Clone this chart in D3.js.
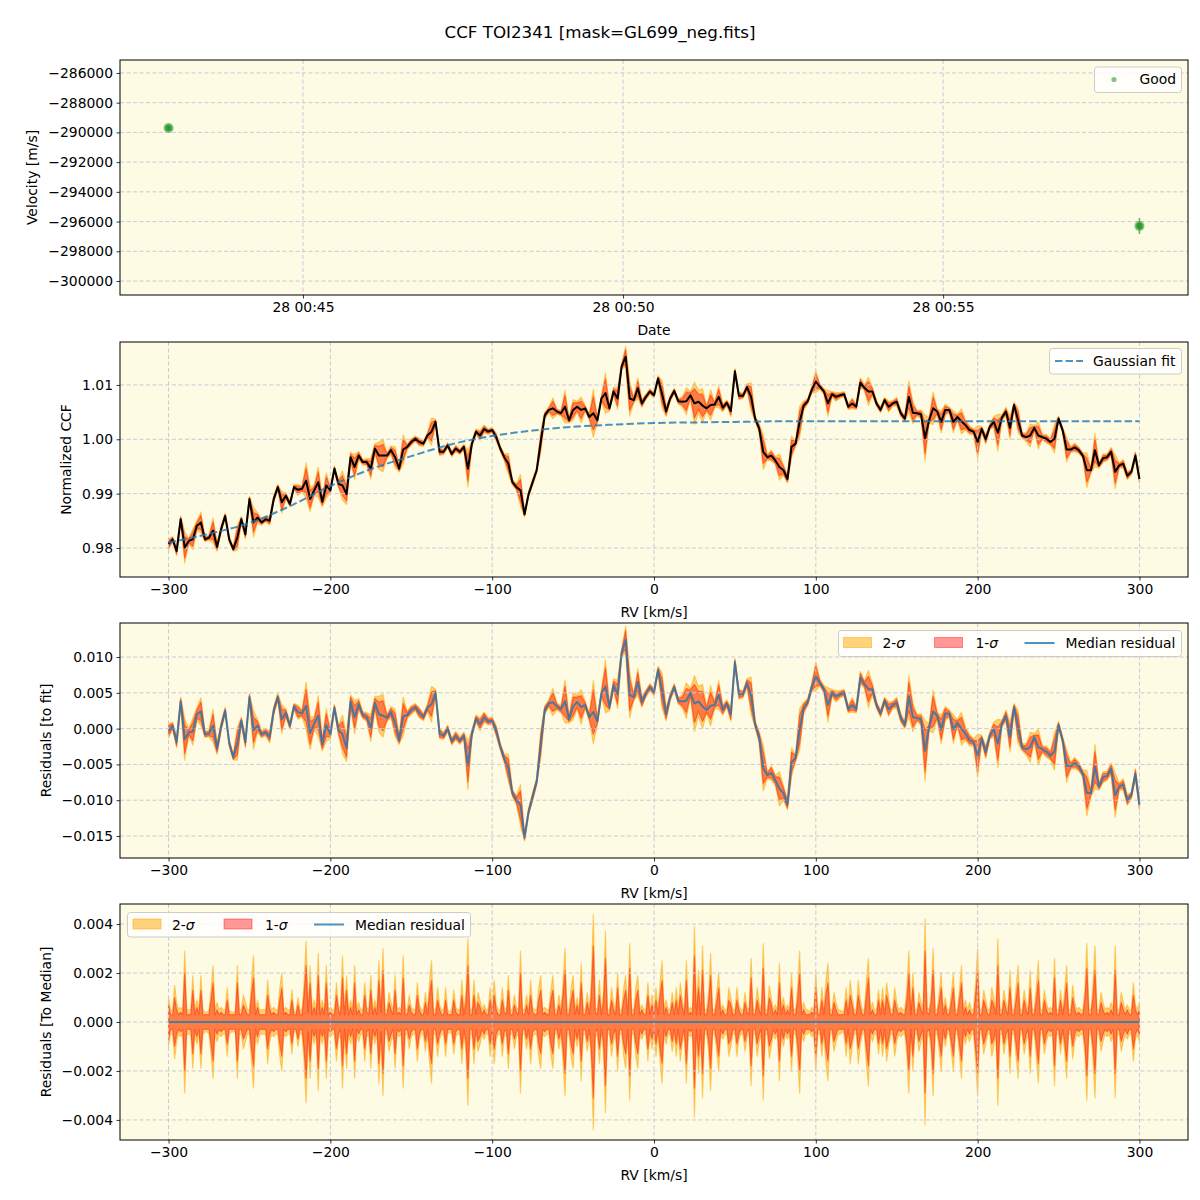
<!DOCTYPE html>
<html>
<head>
<meta charset="utf-8">
<script src="https://cdn.jsdelivr.net/npm/d3@7/dist/d3.min.js"></script>
<style>
html,body{margin:0;padding:0;background:#ffffff;}
svg text{font-family:"DejaVu Sans","Liberation Sans",sans-serif;}
</style>
</head>
<body>
<svg id="chart" width="1200" height="1200" xmlns="http://www.w3.org/2000/svg"></svg>
<script>
// ---------------- DATA ----------------
const titleText = "CCF TOI2341 [mask=GL699_neg.fits]";

// panel 1 : RV time series
const obsTimes = ["2023-07-28T00:42:54Z", "2023-07-28T00:58:04Z"];
const obsVelocity = [-289700, -296300];
const obsError = [120, 540];
const velTicks = [-300000, -298000, -296000, -294000, -292000, -290000, -288000, -286000];

// RV grids (km/s)
const rvGrid = d3.range(-300, 300.001, 2.5);    // CCF / residual sampling
const rvFine = d3.range(-300, 300.001, 1.25);   // spread sampling
const rvTicks = [-300, -200, -100, 0, 100, 200, 300];

// panel 2 : normalized CCF
const ccf = [
0.9807,0.9816,0.9794,0.9853,0.9801,0.9813,0.9816,0.9841,0.9847,0.9816,0.9819,0.9832,0.9802,0.9835,0.9859,0.9816,0.9798,0.9819,0.9853,0.9825,
0.9890,0.9847,0.9856,0.9847,0.9853,0.9850,0.9890,0.9912,0.9884,0.9896,0.9881,0.9912,0.9907,0.9909,0.9924,0.9890,0.9906,0.9921,0.9885,0.9915,
0.9906,0.9946,0.9918,0.9915,0.9899,0.9967,0.9949,0.9970,0.9958,0.9958,0.9946,0.9983,0.9970,0.9970,0.9970,0.9980,0.9967,0.9946,0.9981,0.9986,0.9995,
1.0001,0.9995,0.9992,1.0007,1.0014,1.0032,0.9977,0.9977,0.9989,0.9973,0.9983,0.9977,0.9986,0.9946,0.9992,1.0014,1.0007,1.0019,1.0014,1.0017,
1.0004,0.9983,0.9967,0.9955,0.9921,0.9912,0.9906,0.9862,0.9899,0.9921,0.9943,0.9995,1.0044,1.0054,1.0057,1.0051,1.0048,1.0060,1.0035,1.0054,
1.0060,1.0054,1.0057,1.0041,1.0048,1.0035,1.0075,1.0085,1.0057,1.0088,1.0075,1.0134,1.0152,1.0075,1.0072,1.0094,1.0066,1.0078,1.0088,1.0081,
1.0112,1.0083,1.0051,1.0075,1.0089,1.0070,1.0069,1.0070,1.0081,1.0066,1.0069,1.0062,1.0057,1.0063,1.0064,1.0078,1.0058,1.0067,1.0052,1.0125,
1.0080,1.0080,1.0096,1.0078,1.0038,1.0020,0.9977,0.9967,0.9970,0.9961,0.9949,0.9943,0.9927,0.9986,0.9992,1.0032,1.0062,1.0070,1.0091,1.0106,
1.0097,1.0088,1.0066,1.0083,1.0078,1.0081,1.0083,1.0060,1.0066,1.0060,1.0104,1.0095,1.0088,1.0088,1.0066,1.0054,1.0072,1.0060,1.0066,1.0069,
1.0048,1.0038,1.0078,1.0049,1.0048,1.0046,1.0002,1.0035,1.0057,1.0051,1.0032,1.0054,1.0054,1.0032,1.0041,1.0033,1.0026,1.0017,1.0014,0.9995,
1.0019,1.0000,1.0023,1.0032,1.0012,1.0040,1.0051,1.0021,1.0063,1.0035,1.0007,1.0004,1.0007,1.0021,1.0007,1.0004,1.0001,0.9995,1.0001,1.0038,
1.0017,0.9981,0.9981,0.9985,0.9980,0.9970,0.9943,0.9943,0.9980,0.9952,0.9965,0.9967,0.9977,0.9940,0.9952,0.9955,0.9933,0.9940,0.9970,0.9927
];
const fitRV = [-300,-275,-250,-225,-200,-175,-150,-125,-100,-75,-50,-25,0,25,50,75,100,125,150,175,200,225,250,275,300];
const fitValue = [0.9810,0.9826,0.9846,0.9877,0.9914,0.9945,0.9969,0.9991,1.0006,1.0016,1.0023,1.0027,1.0030,1.0031,1.0032,1.0033,1.0033,1.0033,1.0033,1.0033,1.0033,1.0033,1.0033,1.0033,1.0033];

// panel 3 : median residual to fit
const residual = [
-0.0003,0.0004,-0.0019,0.0038,-0.0015,-0.0005,-0.0004,0.0020,0.0024,-0.0008,-0.0007,
0.0004,-0.0028,0.0003,0.0025,-0.0020,-0.0040,-0.0021,0.0011,-0.0019,0.0044,
-0.0002,0.0004,-0.0008,-0.0005,-0.0012,0.0025,0.0044,0.0013,0.0022,0.0004,
0.0031,0.0023,0.0021,0.0032,-0.0006,0.0007,0.0018,-0.0022,0.0005,-0.0008,
0.0029,-0.0002,-0.0008,-0.0027,0.0038,0.0016,0.0034,0.0019,0.0016,0.0001,
0.0036,0.0020,0.0018,0.0015,0.0023,0.0008,-0.0016,0.0017,0.0019,0.0026,
0.0030,0.0022,0.0016,0.0029,0.0034,0.0050,-0.0007,-0.0010,0.0000,-0.0018,
-0.0010,-0.0017,-0.0010,-0.0051,-0.0007,0.0014,0.0006,0.0016,0.0010,0.0011,
-0.0003,-0.0025,-0.0042,-0.0055,-0.0090,-0.0100,-0.0107,-0.0152,-0.0116,-0.0095,
-0.0074,-0.0022,0.0026,0.0035,0.0037,0.0031,0.0027,0.0038,0.0013,0.0031,
0.0037,0.0030,0.0033,0.0016,0.0023,0.0010,0.0049,0.0059,0.0030,0.0061,
0.0048,0.0106,0.0124,0.0047,0.0044,0.0065,0.0037,0.0049,0.0058,0.0051,
0.0082,0.0053,0.0020,0.0044,0.0058,0.0039,0.0038,0.0039,0.0050,0.0035,
0.0038,0.0031,0.0026,0.0032,0.0033,0.0047,0.0026,0.0035,0.0020,0.0093,
0.0048,0.0048,0.0064,0.0046,0.0006,-0.0012,-0.0055,-0.0065,-0.0062,-0.0072,
-0.0084,-0.0090,-0.0106,-0.0047,-0.0041,-0.0001,0.0029,0.0037,0.0058,0.0073,
0.0064,0.0055,0.0033,0.0050,0.0045,0.0048,0.0050,0.0027,0.0033,0.0027,
0.0071,0.0062,0.0055,0.0055,0.0033,0.0021,0.0039,0.0027,0.0033,0.0036,
0.0015,0.0005,0.0045,0.0016,0.0015,0.0013,-0.0031,0.0002,0.0024,0.0018,
-0.0001,0.0021,0.0021,-0.0001,0.0008,0.0000,-0.0007,-0.0016,-0.0019,-0.0038,
-0.0014,-0.0033,-0.0010,-0.0001,-0.0021,0.0007,0.0018,-0.0012,0.0030,0.0002,
-0.0026,-0.0029,-0.0026,-0.0012,-0.0026,-0.0029,-0.0032,-0.0038,-0.0032,0.0005,
-0.0016,-0.0052,-0.0052,-0.0048,-0.0053,-0.0063,-0.0090,-0.0090,-0.0053,-0.0081,
-0.0068,-0.0066,-0.0056,-0.0093,-0.0081,-0.0078,-0.0100,-0.0093,-0.0063,-0.0106
];

// panel 4 : spread around the median, half widths of the 2-sigma / 1-sigma bands (on rvFine)
const sigma2 = [
.0010,.0005,.0005,.0015,.0008,.0005,.0006,.0005,.0029,.0005,.0005,.0005,.0019,.0005,.0009,.0005,.0019,.0005,.0004,.0004,
.0005,.0013,.0023,.0005,.0008,.0005,.0006,.0005,.0005,.0014,.0005,.0004,.0004,.0004,.0023,.0005,.0005,.0011,.0008,.0005,
.0005,.0016,.0027,.0005,.0009,.0005,.0005,.0005,.0005,.0017,.0008,.0005,.0006,.0005,.0005,.0014,.0020,.0005,.0006,.0005,
.0005,.0013,.0004,.0004,.0010,.0005,.0005,.0016,.0033,.0006,.0023,.0005,.0009,.0005,.0028,.0005,.0009,.0005,.0023,.0005,
.0006,.0005,.0005,.0016,.0007,.0005,.0027,.0005,.0019,.0005,.0009,.0005,.0023,.0005,.0008,.0005,.0005,.0016,.0006,.0005,
.0019,.0005,.0009,.0005,.0025,.0006,.0030,.0005,.0005,.0012,.0008,.0005,.0019,.0005,.0006,.0005,.0027,.0005,.0005,.0011,
.0006,.0005,.0005,.0016,.0007,.0005,.0005,.0012,.0005,.0016,.0025,.0005,.0005,.0014,.0007,.0005,.0005,.0014,.0005,.0004,
.0005,.0013,.0006,.0005,.0005,.0017,.0005,.0012,.0034,.0005,.0005,.0017,.0005,.0012,.0009,.0005,.0007,.0005,.0005,.0014,
.0005,.0017,.0007,.0005,.0005,.0014,.0006,.0005,.0019,.0005,.0005,.0011,.0006,.0005,.0029,.0005,.0005,.0011,.0005,.0017,
.0006,.0005,.0005,.0014,.0019,.0005,.0006,.0005,.0005,.0013,.0019,.0005,.0005,.0011,.0005,.0016,.0030,.0005,.0005,.0014,
.0019,.0005,.0010,.0005,.0024,.0005,.0005,.0012,.0005,.0016,.0044,.0006,.0005,.0017,.0005,.0012,.0037,.0005,.0005,.0014,
.0008,.0005,.0020,.0005,.0005,.0014,.0019,.0005,.0032,.0005,.0005,.0014,.0019,.0005,.0007,.0005,.0005,.0016,.0005,.0011,
.0005,.0014,.0005,.0016,.0025,.0005,.0009,.0005,.0005,.0012,.0005,.0014,.0005,.0016,.0009,.0005,.0025,.0005,.0006,.0005,
.0039,.0005,.0021,.0005,.0031,.0005,.0005,.0012,.0028,.0005,.0005,.0012,.0020,.0005,.0007,.0005,.0005,.0014,.0010,.0005,
.0005,.0014,.0007,.0005,.0005,.0012,.0006,.0005,.0026,.0005,.0005,.0014,.0008,.0005,.0032,.0005,.0005,.0015,.0010,.0005,
.0007,.0005,.0024,.0005,.0010,.0005,.0007,.0005,.0020,.0005,.0005,.0014,.0029,.0005,.0008,.0005,.0005,.0004,.0006,.0005,
.0020,.0005,.0005,.0014,.0005,.0017,.0024,.0005,.0005,.0012,.0008,.0005,.0005,.0004,.0005,.0014,.0005,.0017,.0010,.0005,
.0005,.0017,.0009,.0005,.0005,.0017,.0026,.0005,.0008,.0005,.0005,.0013,.0005,.0014,.0005,.0016,.0010,.0005,.0005,.0014,
.0008,.0005,.0006,.0005,.0005,.0014,.0029,.0005,.0020,.0005,.0005,.0012,.0008,.0005,.0042,.0006,.0005,.0012,.0030,.0005,
.0005,.0012,.0020,.0005,.0010,.0005,.0005,.0012,.0020,.0005,.0005,.0013,.0023,.0005,.0009,.0005,.0008,.0005,.0005,.0016,
.0030,.0005,.0005,.0013,.0009,.0005,.0005,.0014,.0010,.0005,.0034,.0005,.0005,.0013,.0008,.0005,.0021,.0005,.0005,.0014,
.0023,.0005,.0005,.0013,.0008,.0005,.0021,.0005,.0005,.0014,.0025,.0005,.0005,.0013,.0008,.0005,.0006,.0005,.0026,.0005,
.0005,.0013,.0005,.0012,.0023,.0005,.0005,.0015,.0008,.0005,.0006,.0005,.0005,.0013,.0032,.0005,.0005,.0015,.0031,.0005,
.0005,.0012,.0008,.0005,.0006,.0005,.0008,.0005,.0031,.0005,.0005,.0012,.0008,.0005,.0007,.0005,.0005,.0016,.0007,.0005,
.0008
];
const sigma1 = [
.0007,.0003,.0003,.0010,.0005,.0003,.0004,.0003,.0020,.0003,.0003,.0003,.0013,.0003,.0006,.0003,.0013,.0003,.0003,.0003,
.0003,.0009,.0016,.0003,.0005,.0003,.0004,.0003,.0003,.0009,.0003,.0003,.0003,.0003,.0016,.0003,.0003,.0007,.0005,.0003,
.0003,.0011,.0018,.0003,.0006,.0003,.0003,.0003,.0003,.0011,.0005,.0003,.0004,.0003,.0003,.0009,.0014,.0003,.0004,.0003,
.0003,.0009,.0003,.0003,.0007,.0003,.0003,.0011,.0023,.0004,.0016,.0003,.0006,.0003,.0019,.0003,.0006,.0003,.0016,.0003,
.0004,.0003,.0003,.0011,.0005,.0003,.0018,.0003,.0013,.0003,.0006,.0003,.0016,.0003,.0005,.0003,.0003,.0011,.0004,.0003,
.0013,.0003,.0006,.0003,.0017,.0004,.0021,.0003,.0003,.0008,.0005,.0003,.0013,.0003,.0004,.0003,.0018,.0003,.0003,.0007,
.0004,.0003,.0003,.0011,.0005,.0003,.0003,.0008,.0003,.0011,.0017,.0003,.0003,.0009,.0005,.0003,.0003,.0009,.0003,.0003,
.0003,.0009,.0004,.0003,.0003,.0011,.0003,.0008,.0023,.0003,.0003,.0011,.0003,.0008,.0006,.0003,.0005,.0003,.0003,.0009,
.0003,.0011,.0005,.0003,.0003,.0009,.0004,.0003,.0013,.0003,.0003,.0007,.0004,.0003,.0020,.0003,.0003,.0007,.0003,.0011,
.0004,.0003,.0003,.0009,.0013,.0003,.0004,.0003,.0003,.0009,.0013,.0003,.0003,.0007,.0003,.0011,.0021,.0003,.0003,.0009,
.0013,.0003,.0007,.0003,.0016,.0003,.0003,.0008,.0003,.0011,.0031,.0004,.0003,.0011,.0003,.0008,.0026,.0003,.0003,.0009,
.0005,.0003,.0014,.0003,.0003,.0009,.0013,.0003,.0022,.0003,.0003,.0009,.0013,.0003,.0005,.0003,.0003,.0011,.0003,.0007,
.0003,.0009,.0003,.0011,.0017,.0003,.0006,.0003,.0003,.0008,.0003,.0009,.0003,.0011,.0006,.0003,.0017,.0003,.0004,.0003,
.0027,.0003,.0014,.0003,.0021,.0003,.0003,.0008,.0019,.0003,.0003,.0008,.0014,.0003,.0005,.0003,.0003,.0009,.0007,.0003,
.0003,.0009,.0005,.0003,.0003,.0008,.0004,.0003,.0018,.0003,.0003,.0009,.0005,.0003,.0022,.0003,.0003,.0010,.0007,.0003,
.0005,.0003,.0016,.0003,.0007,.0003,.0005,.0003,.0014,.0003,.0003,.0009,.0020,.0003,.0005,.0003,.0003,.0003,.0004,.0003,
.0014,.0003,.0003,.0009,.0003,.0011,.0016,.0003,.0003,.0008,.0005,.0003,.0003,.0003,.0003,.0009,.0003,.0011,.0007,.0003,
.0003,.0011,.0006,.0003,.0003,.0011,.0018,.0003,.0005,.0003,.0003,.0009,.0003,.0009,.0003,.0011,.0007,.0003,.0003,.0009,
.0005,.0003,.0004,.0003,.0003,.0009,.0020,.0003,.0014,.0003,.0003,.0008,.0005,.0003,.0029,.0004,.0003,.0008,.0021,.0003,
.0003,.0008,.0014,.0003,.0007,.0003,.0003,.0008,.0014,.0003,.0003,.0009,.0016,.0003,.0006,.0003,.0005,.0003,.0003,.0011,
.0021,.0003,.0003,.0009,.0006,.0003,.0003,.0009,.0007,.0003,.0023,.0003,.0003,.0009,.0005,.0003,.0014,.0003,.0003,.0009,
.0016,.0003,.0003,.0009,.0005,.0003,.0014,.0003,.0003,.0009,.0017,.0003,.0003,.0009,.0005,.0003,.0004,.0003,.0018,.0003,
.0003,.0009,.0003,.0008,.0016,.0003,.0003,.0010,.0005,.0003,.0004,.0003,.0003,.0009,.0022,.0003,.0003,.0010,.0021,.0003,
.0003,.0008,.0005,.0003,.0004,.0003,.0005,.0003,.0021,.0003,.0003,.0008,.0005,.0003,.0005,.0003,.0003,.0011,.0005,.0003,
.0005
];

const ccfTicks = [0.98, 0.99, 1.00, 1.01];
const resTicks = [-0.015, -0.010, -0.005, 0.000, 0.005, 0.010];
const medTicks = [-0.004, -0.002, 0.000, 0.002, 0.004];

// ---------------- STYLE / LAYOUT ----------------
const FS = 13.9;
const BG = "#fdfbe3";
const GRID = "#c8c9d6";
const C_ORANGE = "#ffa500", C_RED = "#ff0000", C_BLUE = "#1f77b4", C_GREEN = "#2ca02c";
const XL = 120, XR = 1188;
const P = [
  {top: 60, bottom: 295},
  {top: 342, bottom: 577},
  {top: 623, bottom: 858},
  {top: 904, bottom: 1140}
];

const svg = d3.select("#chart");
svg.append("rect").attr("width", 1200).attr("height", 1200).attr("fill", "#fff");
svg.append("text").attr("x", 600).attr("y", 38).attr("text-anchor", "middle")
  .attr("font-size", 16.7).attr("fill", "#000").text(titleText);

const defs = svg.append("defs");
P.forEach((p, i) => {
  defs.append("clipPath").attr("id", "clip" + i).append("rect")
    .attr("x", XL).attr("y", p.top).attr("width", XR - XL).attr("height", p.bottom - p.top);
});

function panelBase(i) {
  const p = P[i];
  const g = svg.append("g");
  g.append("rect").attr("x", XL).attr("y", p.top).attr("width", XR - XL).attr("height", p.bottom - p.top).attr("fill", BG);
  return g;
}
function drawGrid(g, i, x, y, xt, yt) {
  const p = P[i];
  const gg = g.append("g").attr("clip-path", `url(#clip${i})`);
  xt.forEach(t => gg.append("line").attr("x1", x(t)).attr("x2", x(t)).attr("y1", p.top).attr("y2", p.bottom)
    .attr("stroke", GRID).attr("stroke-width", 1).attr("stroke-dasharray", "4,2.5"));
  yt.forEach(t => gg.append("line").attr("x1", XL).attr("x2", XR).attr("y1", y(t)).attr("y2", y(t))
    .attr("stroke", GRID).attr("stroke-width", 1).attr("stroke-dasharray", "4,2.5"));
}
function drawAxes(g, i, x, y, xt, yt, xf, yf, xlabel, ylabel, ylabelX) {
  const p = P[i];
  g.append("rect").attr("x", XL).attr("y", p.top).attr("width", XR - XL).attr("height", p.bottom - p.top)
    .attr("fill", "none").attr("stroke", "#000").attr("stroke-width", 1);
  const ax = g.append("g").attr("transform", `translate(0,${p.bottom})`)
    .call(d3.axisBottom(x).tickValues(xt).tickFormat(xf).tickSize(3.5).tickPadding(3.5));
  const ay = g.append("g").attr("transform", `translate(${XL},0)`)
    .call(d3.axisLeft(y).tickValues(yt).tickFormat(yf).tickSize(3.5).tickPadding(3.5));
  [ax, ay].forEach(a => {
    a.select(".domain").remove();
    a.attr("font-size", FS).attr("font-family", "DejaVu Sans");
    a.selectAll("text").attr("fill", "#000");
    a.selectAll("line").attr("stroke", "#000").attr("stroke-width", 0.8);
  });
  g.append("text").attr("x", (XL + XR) / 2).attr("y", p.bottom + 40).attr("text-anchor", "middle")
    .attr("font-size", FS).attr("fill", "#000").text(xlabel);
  g.append("text").attr("transform", `translate(${ylabelX},${(p.top + p.bottom) / 2}) rotate(-90)`)
    .attr("text-anchor", "middle").attr("dy", "0.35em").attr("font-size", FS).attr("fill", "#000").text(ylabel);
}
function legendBox(g, x0, y0, x1, y1) {
  g.append("rect").attr("x", x0).attr("y", y0).attr("width", x1 - x0).attr("height", y1 - y0)
    .attr("rx", 3).attr("fill", "#fff").attr("fill-opacity", 0.8).attr("stroke", "#cccccc").attr("stroke-width", 1);
}
function sigmaLabel(g, x, y, num) {
  const t = g.append("text").attr("x", x).attr("y", y).attr("font-size", FS).attr("fill", "#000");
  t.append("tspan").text(num + "-");
  t.append("tspan").attr("font-style", "italic").text("σ");
}
function bandLegend(g, x0, yTop, yMid, base) {
  g.append("rect").attr("x", x0).attr("y", yTop).attr("width", 28).attr("height", 10)
    .attr("fill", C_ORANGE).attr("fill-opacity", 0.5).attr("stroke", C_ORANGE).attr("stroke-opacity", 0.5);
  sigmaLabel(g, x0 + 39, base, 2);
  g.append("rect").attr("x", x0 + 91).attr("y", yTop).attr("width", 28).attr("height", 10)
    .attr("fill", C_RED).attr("fill-opacity", 0.4).attr("stroke", C_RED).attr("stroke-opacity", 0.4);
  sigmaLabel(g, x0 + 132, base, 1);
  g.append("line").attr("x1", x0 + 181).attr("x2", x0 + 211).attr("y1", yMid).attr("y2", yMid)
    .attr("stroke", C_BLUE).attr("stroke-width", 2).attr("stroke-opacity", 0.8);
  g.append("text").attr("x", x0 + 222).attr("y", base).attr("font-size", FS).attr("fill", "#000").text("Median residual");
}

const idx = d3.range(rvGrid.length);
const idxFine = d3.range(rvFine.length);
const xRV = d3.scaleLinear().domain([-330, 330]).range([XL, XR]);

// band drawing: xs = grid values, center(k), s2(k), s1(k)
function bands(g, i, y, ks, xs, center, s2, s1) {
  const gc = g.append("g").attr("clip-path", `url(#clip${i})`);
  const a2 = d3.area().x(k => xRV(xs(k))).y0(k => y(center(k) - s2(k))).y1(k => y(center(k) + s2(k)));
  const a1 = d3.area().x(k => xRV(xs(k))).y0(k => y(center(k) - s1(k))).y1(k => y(center(k) + s1(k)));
  gc.append("path").attr("d", a2(ks)).attr("fill", C_ORANGE).attr("fill-opacity", 0.5)
    .attr("stroke", C_ORANGE).attr("stroke-opacity", 0.5).attr("stroke-width", 1.2).attr("stroke-linejoin", "round");
  gc.append("path").attr("d", a1(ks)).attr("fill", C_RED).attr("fill-opacity", 0.4)
    .attr("stroke", C_RED).attr("stroke-opacity", 0.4).attr("stroke-width", 1.2).attr("stroke-linejoin", "round");
}

// ---------------- PANEL 1 ----------------
{
  const i = 0;
  const times = obsTimes.map(s => new Date(s));
  const x = d3.scaleUtc().domain([new Date("2023-07-28T00:42:08.5Z"), new Date("2023-07-28T00:58:49.5Z")]).range([XL, XR]);
  const y = d3.scaleLinear().domain([-300940, -285130]).range([P[i].bottom, P[i].top]);
  const xt = [new Date("2023-07-28T00:45:00Z"), new Date("2023-07-28T00:50:00Z"), new Date("2023-07-28T00:55:00Z")];
  const g = panelBase(i);
  drawGrid(g, i, x, y, xt, velTicks);
  const gd = g.append("g").attr("clip-path", `url(#clip${i})`);
  times.forEach((t, k) => {
    gd.append("line").attr("x1", x(t)).attr("x2", x(t))
      .attr("y1", y(obsVelocity[k] - obsError[k])).attr("y2", y(obsVelocity[k] + obsError[k]))
      .attr("stroke", C_GREEN).attr("stroke-opacity", 0.7).attr("stroke-width", 1.6);
    gd.append("circle").attr("cx", x(t)).attr("cy", y(obsVelocity[k])).attr("r", 5)
      .attr("fill", C_GREEN).attr("fill-opacity", 0.6);
    gd.append("circle").attr("cx", x(t)).attr("cy", y(obsVelocity[k])).attr("r", 3.3)
      .attr("fill", "#1e8a1e").attr("fill-opacity", 0.7);
  });
  drawAxes(g, i, x, y, xt, velTicks, d3.utcFormat("%d %H:%M"), d3.format("d"), "Date", "Velocity [m/s]", 32);
  legendBox(g, 1094.5, 67, 1181.5, 92.5);
  g.append("circle").attr("cx", 1114).attr("cy", 79.5).attr("r", 2.6).attr("fill", C_GREEN).attr("fill-opacity", 0.6);
  g.append("text").attr("x", 1176).attr("y", 84).attr("text-anchor", "end").attr("font-size", FS).attr("fill", "#000").text("Good");
}

// ---------------- PANEL 2 ----------------
{
  const i = 1;
  const y = d3.scaleLinear().domain([0.97466, 1.0179]).range([P[i].bottom, P[i].top]);
  const g = panelBase(i);
  bands(g, i, y, idx, k => rvGrid[k], k => ccf[k], k => sigma2[2 * k], k => sigma1[2 * k]);
  drawGrid(g, i, xRV, y, rvTicks, ccfTicks);
  const gc = g.append("g").attr("clip-path", `url(#clip${i})`);
  gc.append("path").attr("d", d3.line().x(k => xRV(rvGrid[k])).y(k => y(ccf[k]))(idx))
    .attr("fill", "none").attr("stroke", "#000").attr("stroke-width", 2).attr("stroke-linejoin", "round");
  gc.append("path").attr("d", d3.line().curve(d3.curveMonotoneX).x((d, k) => xRV(fitRV[k])).y(d => y(d))(fitValue))
    .attr("fill", "none").attr("stroke", C_BLUE).attr("stroke-opacity", 0.8).attr("stroke-width", 2)
    .attr("stroke-dasharray", "7.4,3.2");
  drawAxes(g, i, xRV, y, rvTicks, ccfTicks, d3.format("d"), d3.format(".2f"), "RV [km/s]", "Normalized CCF", 66);
  legendBox(g, 1049.5, 348.5, 1181.5, 374);
  g.append("line").attr("x1", 1055).attr("x2", 1083).attr("y1", 361).attr("y2", 361)
    .attr("stroke", C_BLUE).attr("stroke-opacity", 0.8).attr("stroke-width", 2).attr("stroke-dasharray", "7.4,3.2");
  g.append("text").attr("x", 1093).attr("y", 366).attr("font-size", FS).attr("fill", "#000").text("Gaussian fit");
}

// ---------------- PANEL 3 ----------------
{
  const i = 2;
  const y = d3.scaleLinear().domain([-0.01807, 0.01475]).range([P[i].bottom, P[i].top]);
  const g = panelBase(i);
  bands(g, i, y, idx, k => rvGrid[k], k => residual[k], k => sigma2[2 * k], k => sigma1[2 * k]);
  drawGrid(g, i, xRV, y, rvTicks, resTicks);
  const gc = g.append("g").attr("clip-path", `url(#clip${i})`);
  gc.append("path").attr("d", d3.line().x(k => xRV(rvGrid[k])).y(k => y(residual[k]))(idx))
    .attr("fill", "none").attr("stroke", C_BLUE).attr("stroke-opacity", 0.8).attr("stroke-width", 2).attr("stroke-linejoin", "round");
  drawAxes(g, i, xRV, y, rvTicks, resTicks, d3.format("d"), d3.format(".3f"), "RV [km/s]", "Residuals [to fit]", 46);
  legendBox(g, 838.5, 630.5, 1181.5, 656.5);
  bandLegend(g, 843.5, 637.5, 643, 648);
}

// ---------------- PANEL 4 ----------------
{
  const i = 3;
  const y = d3.scaleLinear().domain([-0.00482, 0.00482]).range([P[i].bottom, P[i].top]);
  const g = panelBase(i);
  bands(g, i, y, idxFine, k => rvFine[k], k => 0, k => sigma2[k], k => sigma1[k]);
  drawGrid(g, i, xRV, y, rvTicks, medTicks);
  const gc = g.append("g").attr("clip-path", `url(#clip${i})`);
  gc.append("path").attr("d", d3.line().x(k => xRV(rvFine[k])).y(() => y(0))([0, rvFine.length - 1]))
    .attr("fill", "none").attr("stroke", C_BLUE).attr("stroke-opacity", 0.8).attr("stroke-width", 2);
  drawAxes(g, i, xRV, y, rvTicks, medTicks, d3.format("d"), d3.format(".3f"), "RV [km/s]", "Residuals [To Median]", 46);
  legendBox(g, 127.5, 912.5, 470.5, 937);
  bandLegend(g, 133, 919, 924.5, 929.5);
}
</script>
</body>
</html>
